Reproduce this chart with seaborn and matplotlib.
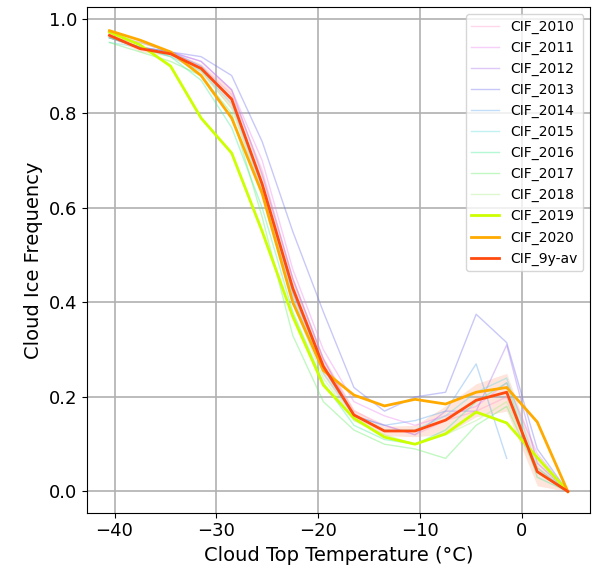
import numpy as np
import pandas as pd
import matplotlib
matplotlib.use("Agg")
import matplotlib.pyplot as plt
import seaborn as sns

temps = [-40.5, -37.5, -34.5, -31.5, -28.5, -25.5, -22.5, -19.5, -16.5, -13.5, -10.5, -7.5, -4.5, -1.5, 1.5, 4.5]

cif_2010 = [0.96, 0.95, 0.93, 0.90, 0.84, 0.68, 0.45, 0.28, 0.17, 0.14, 0.12, 0.15, 0.17, 0.20, 0.05, 0.0]
cif_2011 = [0.97, 0.95, 0.93, 0.91, 0.85, 0.70, 0.47, 0.30, 0.19, 0.16, 0.14, 0.16, 0.18, 0.23, 0.08, 0.0]
cif_2012 = [0.96, 0.94, 0.93, 0.91, 0.85, 0.67, 0.45, 0.28, 0.16, 0.14, 0.12, 0.17, 0.17, 0.31, 0.06, 0.0]
cif_2013 = [0.96, 0.94, 0.93, 0.92, 0.88, 0.74, 0.55, 0.38, 0.22, 0.17, 0.20, 0.21, 0.375, 0.315, 0.09, 0.0]
cif_2014 = [0.96, 0.94, 0.93, 0.90, 0.83, 0.65, 0.42, 0.26, 0.16, 0.14, 0.15, 0.17, 0.27, 0.07, np.nan, np.nan]
cif_2015 = [0.95, 0.94, 0.92, 0.89, 0.82, 0.64, 0.41, 0.25, 0.16, 0.13, 0.13, 0.16, 0.21, 0.24, 0.05, 0.0]
cif_2016 = [0.96, 0.94, 0.92, 0.87, 0.77, 0.60, 0.38, 0.23, 0.14, 0.11, 0.10, 0.13, 0.19, 0.23, 0.03, 0.0]
cif_2017 = [0.95, 0.93, 0.91, 0.88, 0.80, 0.58, 0.33, 0.19, 0.13, 0.10, 0.09, 0.07, 0.14, 0.18, 0.04, 0.0]
cif_2018 = [0.96, 0.95, 0.93, 0.89, 0.81, 0.63, 0.40, 0.24, 0.15, 0.12, 0.10, 0.12, 0.15, 0.19, 0.05, 0.0]
cif_2019 = [0.972, 0.945, 0.90, 0.79, 0.716, 0.55, 0.37, 0.225, 0.155, 0.115, 0.10, 0.122, 0.168, 0.145, 0.072, 0.0]
cif_2020 = [0.975, 0.955, 0.93, 0.88, 0.79, 0.63, 0.40, 0.256, 0.204, 0.181, 0.195, 0.185, 0.21, 0.22, 0.147, 0.0]
cif_avg = [0.965, 0.937, 0.926, 0.895, 0.83, 0.65, 0.43, 0.265, 0.162, 0.128, 0.128, 0.151, 0.193, 0.21, 0.042, 0.0]
avg_spread = [0.005, 0.006, 0.006, 0.01, 0.02, 0.025, 0.025, 0.02, 0.012, 0.01, 0.012, 0.03, 0.035, 0.04, 0.03, 0.0]

years = ["CIF_2010", "CIF_2011", "CIF_2012", "CIF_2013", "CIF_2014", "CIF_2015",
         "CIF_2016", "CIF_2017", "CIF_2018"]
year_data = [cif_2010, cif_2011, cif_2012, cif_2013, cif_2014, cif_2015, cif_2016, cif_2017, cif_2018]
year_colors = ["#ff99cc", "#ee88ee", "#aa77ee", "#7777ee", "#66aaee", "#66dddd",
               "#44ee99", "#66ee66", "#aaee88"]

fig, ax = plt.subplots(figsize=(5.92, 5.86), dpi=100)

for name, vals, col in zip(years, year_data, year_colors):
    sns.lineplot(x=temps, y=vals, ax=ax, color=col, alpha=0.4, lw=1, label=name)

lo = np.array(cif_avg) - np.array(avg_spread)
hi = np.array(cif_avg) + np.array(avg_spread)
ax.fill_between(temps, lo, hi, color="#ff7f50", alpha=0.2, lw=0)

sns.lineplot(x=temps, y=cif_2019, ax=ax, color="#ccff00", lw=2, label="CIF_2019")
sns.lineplot(x=temps, y=cif_2020, ax=ax, color="#ffaa00", lw=2, label="CIF_2020")
sns.lineplot(x=temps, y=cif_avg, ax=ax, color="#ff4a10", lw=2, label="CIF_9y-av")

ax.set_xlabel("Cloud Top Temperature (°C)", fontsize=14)
ax.set_ylabel("Cloud Ice Frequency", fontsize=14)
ax.tick_params(labelsize=13)
ax.set_xticks([-40, -30, -20, -10, 0])
ax.set_yticks([0.0, 0.2, 0.4, 0.6, 0.8, 1.0])
ax.set_xlim(-42.7, 6.7)
ax.set_ylim(-0.045, 1.025)
ax.grid(True, color="#b0b0b0", lw=1.2)
ax.legend(loc="upper right", fontsize=10)
plt.subplots_adjust(left=0.147, right=0.997, top=0.988, bottom=0.125)
plt.savefig("out.png", dpi=100)
